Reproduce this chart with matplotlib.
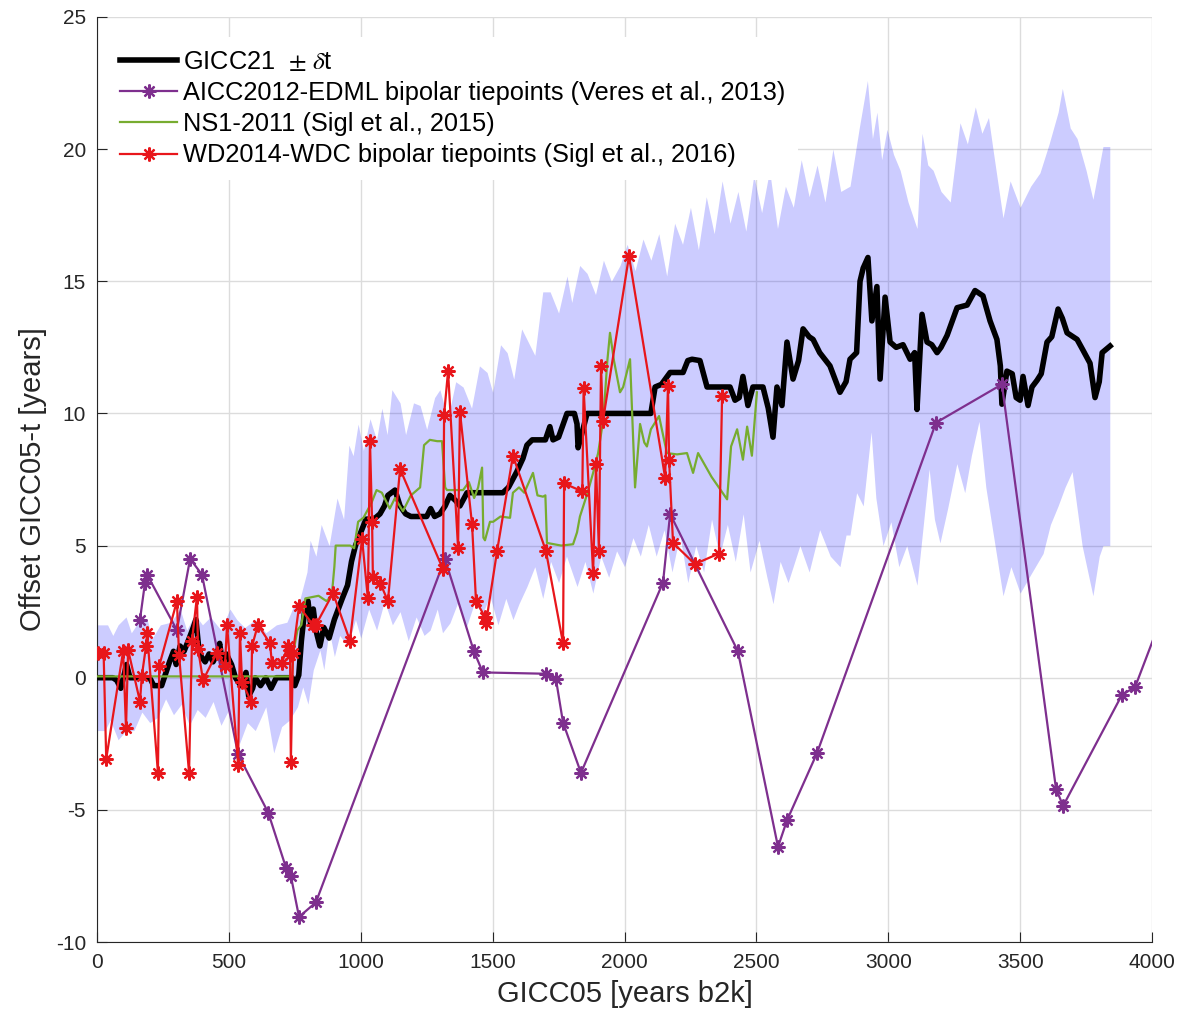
import numpy as np
import matplotlib
matplotlib.use('Agg')
from matplotlib import pyplot as plt

plt.rcParams['font.family'] = ['Liberation Sans', 'DejaVu Sans']
plt.rcParams['mathtext.fontset'] = 'stix'
plt.rcParams['axes.unicode_minus'] = False

# GICC21 offset (years)
gicc21_x = [0, 60, 75, 90, 100, 112, 125, 200, 215, 245, 255, 275, 290, 300, 315, 330, 350,
            365, 375, 385, 395, 410, 425, 440, 455, 465, 475, 490, 510, 525, 545, 565, 575,
            590, 600, 620, 640, 660, 680, 740, 750, 765, 775, 790, 800, 810, 820, 830, 845,
            860, 880, 900, 915, 930, 950, 965, 980, 1000, 1020, 1050, 1073, 1090, 1103, 1130,
            1149, 1170, 1190, 1250, 1265, 1280, 1300, 1320, 1338, 1360, 1376, 1403, 1539,
            1560, 1592, 1615, 1630, 1650, 1700, 1717, 1729, 1750, 1782, 1810, 1820, 1824,
            1840, 1858, 2100, 2116, 2140, 2173, 2222, 2240, 2256, 2286, 2313, 2400, 2419,
            2435, 2449, 2468, 2487, 2525, 2545, 2563, 2578, 2597, 2616, 2639, 2660, 2677,
            2700, 2715, 2740, 2779, 2817, 2840, 2855, 2880, 2893, 2905, 2923, 2938, 2957,
            2969, 2988, 3007, 3030, 3056, 3083, 3100, 3109, 3128, 3147, 3165, 3185, 3200,
            3223, 3261, 3299, 3329, 3359, 3386, 3412, 3425, 3431, 3450, 3470, 3485, 3500,
            3511, 3530, 3545, 3564, 3580, 3602, 3620, 3644, 3660, 3678, 3716, 3738, 3765,
            3784, 3800, 3811, 3841]
gicc21_y = [0, 0, -0.1, -0.4, 0.0, 0.5, 0, 0, -0.3, -0.3, 0, 0.6, 1.0, 0.5, 1.2, 1.0, 1.5,
            1.9, 2.2, 1.2, 0.8, 0.6, 0.9, 0.6, 0.9, 1.3, 0.6, 0.9, 0.5, 0.0, -0.3, 0.2, -0.7,
            -0.4, 0, -0.3, 0, -0.4, 0, 0, -0.3, 0.1, 1.4, 2.8, 2.9, 2.0, 2.6, 1.8, 1.2,
            1.9, 1.5, 2.2, 2.6, 3.0, 3.5, 4.4, 5.0, 5.5, 6.0, 6.0, 6.2, 6.5, 6.9, 7.1,
            6.5, 6.2, 6.1, 6.1, 6.4, 6.1, 6.2, 6.5, 6.9, 6.7, 6.5, 7.0, 7.0,
            7.2, 7.8, 8.3, 8.8, 9.0, 9.0, 9.5, 9.0, 9.1, 10.0, 10.0, 9.6, 8.7,
            9.3, 10.0, 10.0, 11.0, 11.1, 11.55, 11.55, 12.0, 12.05, 12.0, 11.0, 11.0, 10.5,
            10.6, 11.4, 10.3, 11.0, 11.0, 10.2, 9.1, 11.0, 10.3, 12.7, 11.3, 12.0, 13.2,
            12.9, 12.8, 12.3, 11.8, 10.8, 11.2, 12.05, 12.3, 15.0, 15.5, 15.9, 13.5, 14.8,
            11.3, 14.4, 12.7, 12.5, 12.6, 12.05, 12.3, 10.15, 13.75, 12.7, 12.6, 12.3, 12.5,
            12.95, 14.0, 14.1, 14.65, 14.45, 13.5, 12.8, 11.8, 10.35, 11.6, 11.5, 10.6, 10.5,
            11.4, 10.3, 11.0, 11.25, 11.5, 12.7, 12.9, 13.95, 13.6, 13.05, 12.8, 12.4, 11.9,
            10.6, 11.2, 12.3, 12.55]

# uncertainty envelope (GICC21 +/- delta t)
band_hi_x = [0, 40, 60, 80, 110, 130, 150, 190, 210, 240, 280, 315, 340, 370, 400, 430, 470,
             504, 530, 560, 600, 640, 680, 720, 745, 770, 796, 808, 830, 850, 880, 910, 935,
             955, 971, 990, 1010, 1035, 1060, 1080, 1100, 1118, 1149, 1170, 1200, 1225, 1250,
             1280, 1300, 1330, 1360, 1388, 1420, 1450, 1479, 1500, 1530, 1555, 1580, 1610,
             1630, 1660, 1690, 1718, 1750, 1782, 1800, 1830, 1858, 1890, 1920, 1950, 1983,
             2010, 2040, 2070, 2100, 2130, 2160, 2190, 2220, 2250, 2280, 2310, 2340, 2370,
             2400, 2430, 2460, 2490, 2520, 2550, 2580, 2610, 2640, 2670, 2700, 2730, 2760,
             2790, 2820, 2855, 2890, 2921, 2940, 2957, 2975, 2995, 3020, 3045, 3075, 3109,
             3128, 3150, 3170, 3200, 3235, 3272, 3300, 3330, 3355, 3380, 3397, 3435, 3462,
             3500, 3540, 3575, 3610, 3644, 3660, 3690, 3716, 3750, 3776, 3814, 3840]
band_hi_y = [2.0, 2.0, 1.6, 2.0, 2.3, 1.7, 2.0, 2.2, 1.5, 2.0, 2.1, 2.6, 1.8, 2.4, 2.0, 2.3, 1.8,
             2.6, 2.2, 1.9, 2.2, 1.7, 2.0, 2.1, 2.7, 3.0, 4.0, 5.2, 4.6, 5.8, 5.0, 6.8, 6.0,
             8.8, 8.4, 9.6, 8.6, 9.8, 9.0, 10.2, 9.2, 10.9, 10.4, 9.2, 10.4, 10.3, 9.4,
             10.6, 10.9, 9.8, 11.2, 11.0, 10.2, 11.8, 11.55, 10.8, 12.6, 12.3, 11.3, 13.2,
             12.8, 12.2, 14.6, 14.6, 13.8, 15.2, 14.2, 15.6, 15.3, 14.5, 15.8, 15.0, 15.6,
             16.4, 15.4, 16.6, 15.8, 16.8, 15.2, 17.2, 16.4, 17.8, 16.2, 18.2, 16.8, 18.8,
             17.2, 18.4, 16.9, 19.0, 17.6, 19.2, 17.0, 18.6, 17.8, 19.6, 18.2, 19.4, 18.0,
             20.0, 18.4, 18.6, 20.8, 22.6, 20.4, 21.4, 19.6, 20.75, 19.8, 19.2, 18.0, 17.0,
             20.6, 19.4, 19.2, 18.4, 18.0, 21.0, 20.2, 21.6, 20.6, 21.2, 20.0, 17.4, 18.8,
             17.8, 18.6, 19.1, 20.2, 21.4, 22.3, 20.8, 20.4, 19.2, 18.1, 20.1, 20.1]

band_lo_x = [0, 30, 50, 80, 110, 140, 170, 200, 230, 260, 290, 320, 350, 380, 410, 440, 470,
             500, 540, 570, 600, 640, 670, 700, 730, 760, 780, 800, 820, 845, 860, 880, 900,
             920, 950, 980, 1000, 1030, 1060, 1090, 1120, 1149, 1180, 1210, 1240, 1263, 1290,
             1310, 1338, 1370, 1400, 1430, 1463, 1490, 1520, 1550, 1577, 1600, 1630, 1660,
             1690, 1720, 1750, 1780, 1820, 1850, 1880, 1910, 1940, 1970, 2000, 2032, 2060,
             2090, 2120, 2150, 2180, 2210, 2240, 2270, 2300, 2330, 2360, 2390, 2420, 2450,
             2476, 2510, 2540, 2563, 2590, 2620, 2665, 2700, 2740, 2780, 2817, 2840, 2855,
             2880, 2905, 2935, 2953, 2980, 3010, 3040, 3070, 3109, 3130, 3155, 3175, 3196,
             3225, 3260, 3290, 3315, 3344, 3370, 3397, 3435, 3465, 3500, 3540, 3587, 3615,
             3644, 3670, 3697, 3735, 3776, 3800, 3814, 3840]
band_lo_y = [-2.0, -2.0, -1.6, -2.35, -2.0, -2.0, -1.3, -1.7, -1.5, -0.8, -1.4, -1.0, -1.8,
             -1.2, -1.5, -0.9, -1.8, -1.2, -2.5, -1.7, -2.0, -1.1, -2.85, -1.85, -1.6, -1.1,
             -0.35, -1.0, 0.3, 1.05, 0.3, 1.8, 0.8, 1.6, 1.2, 2.2, 1.5, 2.6, 1.8, 2.9, 2.0,
             2.5, 1.4, 2.3, 1.6, 1.8, 2.6, 1.7, 2.07, 2.9, 1.9, 2.8, 2.45, 3.1, 2.0, 3.0, 2.2,
             2.8, 3.45, 4.2, 3.0, 4.4, 3.6, 4.6, 3.45, 4.4, 3.2, 4.6, 3.8, 4.8, 4.2, 5.3, 4.6,
             5.8, 4.6, 5.6, 4.0, 5.4, 3.6, 5.0, 4.0, 6.0, 4.6, 5.8, 4.4, 6.2,
             4.0, 5.2, 3.8, 2.8, 4.4, 3.6, 5.0, 4.0, 5.6, 4.6, 4.2, 5.4, 5.4,
             7.0, 6.5, 9.3, 6.8, 5.0, 5.9, 4.2, 5.0, 3.5, 5.5, 7.9, 6.0, 5.1,
             6.4, 8.1, 7.0, 8.4, 9.7, 7.2, 5.5, 3.1, 4.2, 3.2, 3.9, 4.7, 5.8,
             6.5, 7.2, 7.8, 5.0, 3.1, 4.6, 5.0, 5.0]

# AICC2012-EDML bipolar tiepoints
aicc_x = [163, 182, 190, 303, 353, 398, 535, 649, 717, 735, 766, 830, 1319, 1429, 1463, 1702,
          1740, 1767, 1835, 2146, 2173, 2430, 2582, 2616, 2730, 3181, 3431, 3636, 3663, 3886,
          3936, 4060]
aicc_y = [2.2, 3.6, 3.9, 1.8, 4.5, 3.9, -2.9, -5.1, -7.2, -7.5, -9.05, -8.5, 4.5, 1.0, 0.2,
          0.15, -0.05, -1.7, -3.6, 3.6, 6.2, 1.0, -6.4, -5.4, -2.85, 9.65, 11.1, -4.2, -4.85,
          -0.65, -0.35, 2.9]

# NS1-2011
ns1_x = [0, 740, 745, 760, 775, 790, 840, 870, 890, 900, 905, 960, 975, 990, 1010, 1040, 1060,
         1080, 1110, 1130, 1160, 1190, 1225, 1240, 1262, 1290, 1308, 1320, 1327, 1388, 1410,
         1430, 1445, 1460, 1465, 1471, 1490, 1502, 1530, 1566, 1577, 1600, 1620, 1653, 1670,
         1691, 1700, 1706, 1760, 1805, 1820, 1831, 1860, 1881, 1900, 1920, 1935, 1945, 1960,
         1983, 1995, 2021, 2040, 2059, 2075, 2085, 2100, 2131, 2150, 2161, 2199, 2237, 2260,
         2279, 2330, 2389, 2404, 2427, 2449, 2465, 2483, 2502]
ns1_y = [0.05, 0.05, 1.0, 1.8, 2.0, 3.0, 3.1, 2.9, 3.1, 4.2, 5.0, 5.0, 4.9, 5.9, 6.05, 6.6, 7.1,
         7.0, 6.4, 6.8, 6.3, 6.9, 7.2, 8.8, 9.0, 8.95, 8.95, 7.2, 7.1, 7.1, 7.4,
         6.8, 7.2, 7.95, 5.3, 5.2, 5.9, 5.9, 6.1, 6.05, 7.0, 7.2, 7.0, 7.75, 6.9,
         6.85, 6.9, 5.1, 5.0, 5.05, 5.5, 6.1, 7.0, 7.75, 8.5, 9.8, 12.0, 13.05, 12.0,
         10.8, 11.0, 12.05, 7.2, 9.6, 8.9, 8.75, 9.4, 9.9, 9.0, 8.5, 8.45, 8.5, 7.75,
         8.5, 7.6, 6.75, 8.75, 9.4, 8.25, 9.5, 8.4, 10.8]

# WD2014-WDC bipolar tiepoints
wd_x = [5, 25, 35, 99, 110, 118, 163, 170, 186, 190, 231, 236, 303, 311, 349, 360, 379, 383,
        402, 455, 485, 493, 535, 542, 550, 584, 588, 610, 656, 663, 701, 724, 732, 735, 743,
        766, 819, 830, 895, 959, 1005, 1027, 1035, 1043, 1046, 1073, 1103, 1149, 1312, 1316,
        1331, 1369, 1376, 1422, 1437, 1471, 1475, 1517, 1577, 1702, 1767, 1771, 1840, 1845,
        1881, 1892, 1903, 1911, 1918, 2017, 2154, 2165, 2169, 2184, 2267, 2358, 2370]
wd_y = [0.95, 0.95, -3.07, 1.0, -1.9, 1.05, -0.9, 0.07, 1.2, 1.7, -3.6, 0.45, 2.9, 0.87, -3.6,
        1.4, 3.07, 1.1, -0.1, 0.95, 0.45, 2.0, -3.3, 1.7, -0.15, -0.9, 1.2, 2.0, 1.3, 0.57,
        0.57, 1.2, 0.87, -3.2, 0.95, 2.7, 2.0, 2.0, 3.2, 1.4, 5.25, 3.0, 8.95, 5.9, 3.8, 3.6,
        2.9, 7.9, 4.1, 9.95, 11.6, 4.9, 10.07, 5.8, 2.9, 2.3, 2.07, 4.8, 8.4, 4.8, 1.3, 7.35,
        7.05, 10.95, 3.97, 8.07, 4.8, 11.8, 9.7, 15.95, 7.57, 11.05, 8.25, 5.1, 4.3, 4.7, 10.65]

c_aicc = '#7E2F8E'
c_ns1 = '#77AC30'
c_wd = '#E8161B'
asterisk = (8, 2, 0)

fig = plt.figure(figsize=(11.89, 10.24), dpi=100)
ax = fig.add_axes([97 / 1189, 82 / 1024, 1055 / 1189, 925 / 1024])

# envelope: both edges on a common x grid
bx = np.union1d(band_hi_x, band_lo_x)
ax.fill_between(bx, np.interp(bx, band_lo_x, band_lo_y), np.interp(bx, band_hi_x, band_hi_y),
                color=(0, 0, 1), alpha=0.2, linewidth=0, zorder=1)

ax.plot(gicc21_x, gicc21_y, color='k', lw=4.0, zorder=3, label=r'GICC21  $\pm\ \delta$t')
ax.plot(aicc_x, aicc_y, color=c_aicc, lw=1.6, marker=asterisk, ms=10, mew=1.6, zorder=4,
        label='AICC2012-EDML bipolar tiepoints (Veres et al., 2013)')
ax.plot(ns1_x, ns1_y, color=c_ns1, lw=1.6, zorder=5, label='NS1-2011 (Sigl et al., 2015)')
ax.plot(wd_x, wd_y, color=c_wd, lw=1.6, marker=asterisk, ms=10, mew=1.6, zorder=6,
        label='WD2014-WDC bipolar tiepoints (Sigl et al., 2016)')

ax.set_xlim(0, 4000)
ax.set_ylim(-10, 25)
ax.set_xticks(np.arange(0, 4001, 500))
ax.set_yticks(np.arange(-10, 26, 5))
ax.grid(True, color='#dcdcdc', lw=1)
ax.set_axisbelow(True)
for s in ['top', 'right']:
    ax.spines[s].set_visible(False)
for s in ['left', 'bottom']:
    ax.spines[s].set_color('#262626')
ax.tick_params(direction='in', length=7, labelsize=15, colors='#262626', pad=8)
ax.set_xlabel('GICC05 [years b2k]', fontsize=21, color='#262626', labelpad=6)
ax.set_ylabel('Offset GICC05-t [years]', fontsize=21, color='#262626', labelpad=6)

leg = ax.legend(loc='upper left', bbox_to_anchor=(0.01, 0.978), fontsize=18.3, frameon=True,
                edgecolor='none', facecolor='white', framealpha=1, fancybox=False,
                handlelength=2.25, handletextpad=0.2, labelspacing=0.28, numpoints=1,
                borderaxespad=0, borderpad=0.5)
leg.set_zorder(10)

plt.savefig('out.png', dpi=100)
